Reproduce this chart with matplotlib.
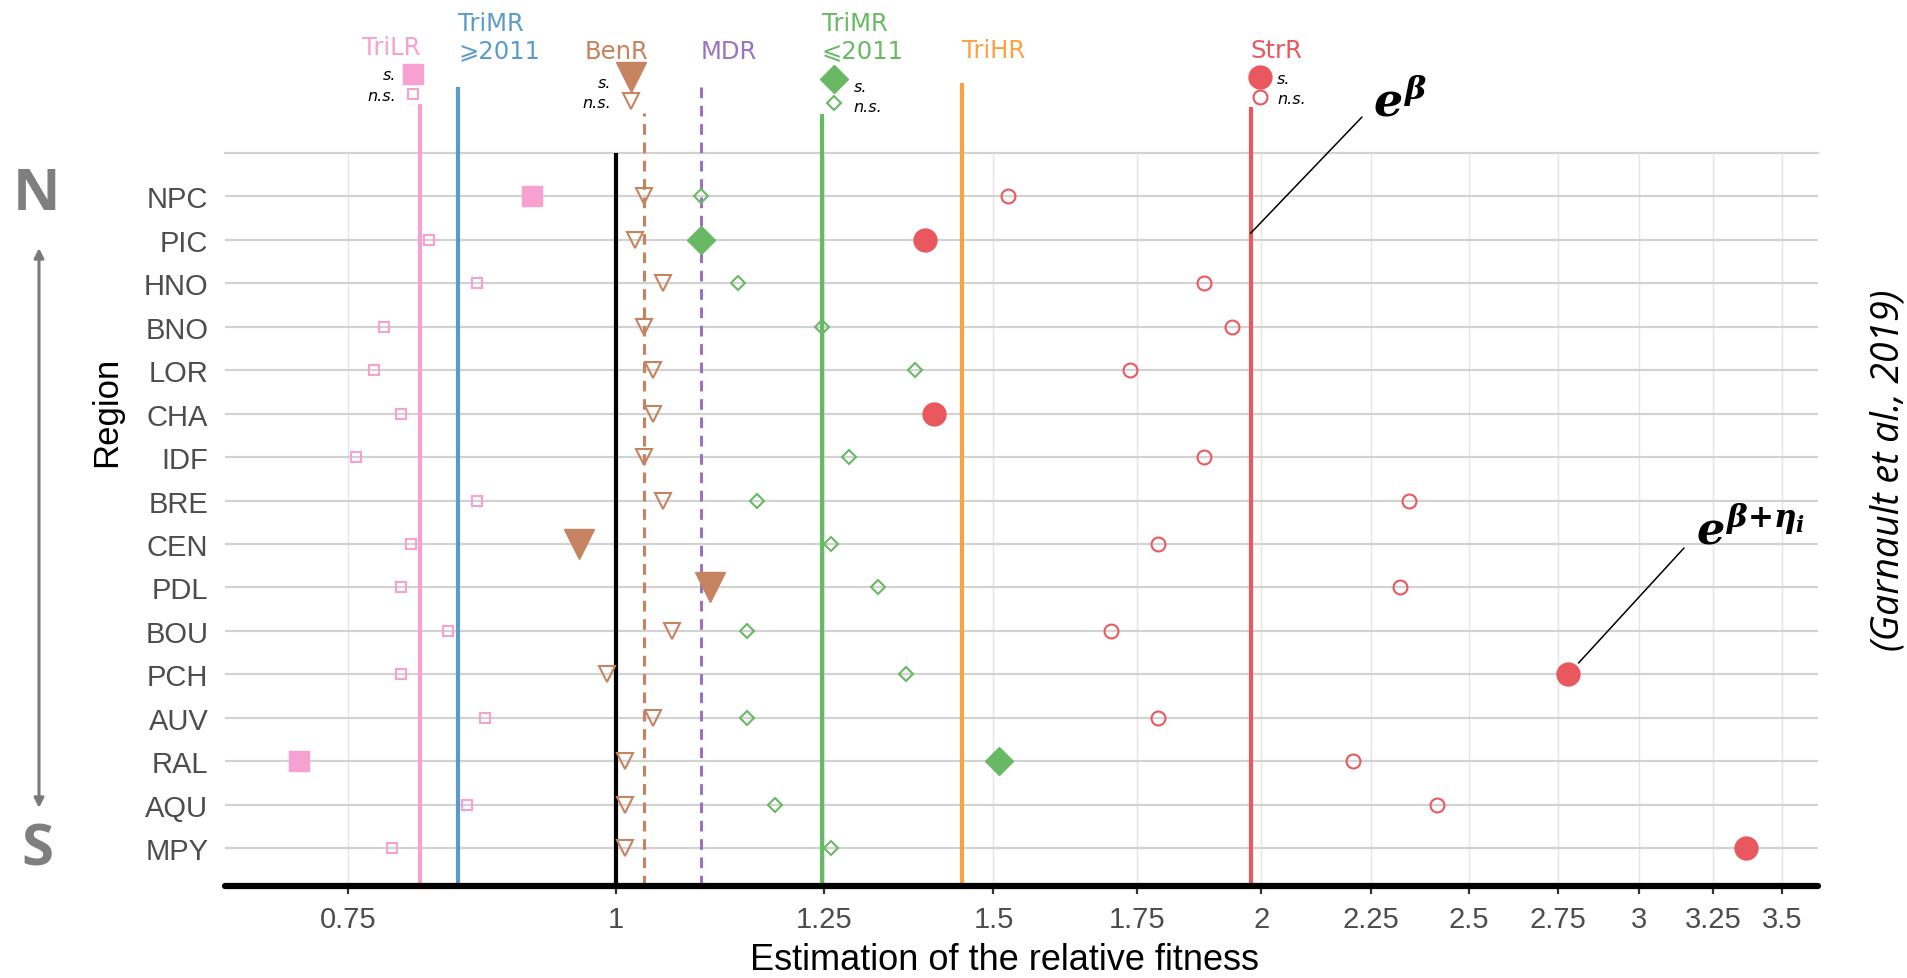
import numpy as np
import matplotlib
matplotlib.use("Agg")
import matplotlib.pyplot as plt

plt.rcParams["font.family"] = ["Liberation Sans", "DejaVu Sans"]
plt.rcParams["mathtext.fontset"] = "custom"
plt.rcParams["mathtext.it"] = "DejaVu Serif:italic:bold"
plt.rcParams["mathtext.rm"] = "DejaVu Serif:bold"
plt.rcParams["mathtext.bf"] = "DejaVu Serif:bold"

# regions, north to south
regions = ["NPC", "PIC", "HNO", "BNO", "LOR", "CHA", "IDF", "BRE",
           "CEN", "PDL", "BOU", "PCH", "AUV", "RAL", "AQU", "MPY"]

# regional estimates exp(beta + eta_i) and significance flags
trilr = [0.914, 0.818, 0.861, 0.779, 0.771, 0.794, 0.756, 0.861,
         0.802, 0.794, 0.835, 0.794, 0.869, 0.711, 0.852, 0.786]
trilr_sig = [1, 0, 0, 0, 0, 0, 0, 0, 0, 0, 0, 0, 0, 1, 0, 0]

benr = [1.031, 1.021, 1.052, 1.031, 1.041, 1.041, 1.031, 1.052,
        0.961, 1.106, 1.062, 0.990, 1.041, 1.010, 1.010, 1.010]
benr_sig = [0, 0, 0, 0, 0, 0, 0, 0, 1, 1, 0, 0, 0, 0, 0, 0]

trimr_old = [1.095, 1.095, 1.140, 1.247, 1.379, np.nan, 1.285, 1.163,
             1.260, 1.325, 1.151, 1.365, 1.151, 1.509, 1.186, 1.260]
trimr_old_sig = [0, 1, 0, 0, 0, 0, 0, 0, 0, 0, 0, 0, 0, 1, 0, 0]

strr = [1.524, 1.393, 1.881, 1.937, 1.736, 1.407, 1.881, 2.344,
        1.789, 2.321, 1.701, 2.781, 1.789, 2.208, 2.416, 3.365]
strr_sig = [0, 1, 0, 0, 0, 1, 0, 0, 0, 0, 0, 1, 0, 0, 0, 1]

# national estimates exp(beta)
phenotypes = ["TriLR", "TriMR ⩾2011", "BenR", "MDR", "TriMR ⩽2011", "TriHR", "StrR"]
beta = [0.810, 0.844, 1.031, 1.095, 1.247, 1.450, 1.977]

xticks = [0.75, 1, 1.25, 1.5, 1.75, 2, 2.25, 2.5, 2.75, 3, 3.25, 3.5]
xtick_labels = ["0.75", "1", "1.25", "1.5", "1.75", "2", "2.25", "2.5",
                "2.75", "3", "3.25", "3.5"]

colors = {"TriLR": "#F7A1D0", "TriMR ⩾2011": "#5B9BC9", "BenR": "#C5845F",
          "MDR": "#9B72BF", "TriMR ⩽2011": "#68B864", "TriHR": "#FCA13F",
          "StrR": "#E9585E"}

W, H = 1907, 979
fig = plt.figure(figsize=(W / 100, H / 100), dpi=100)
ax = fig.add_axes([225 / W, 1 - 887 / H, (1818 - 225) / W, (887 - 154) / H])

y = np.arange(len(regions))[::-1].astype(float)
ybot, ytop = -0.874, 16.0

ax.set_xscale("log")
ax.set_xlim(0.657, 3.637)
ax.set_ylim(ybot, ytop)
ax.xaxis.set_minor_locator(matplotlib.ticker.NullLocator())
ax.set_xticks(xticks, labels=xtick_labels)
ax.set_yticks(y, labels=regions)

ax.grid(axis="x", color="#e4e4e4", lw=1.0, zorder=0)
ax.grid(axis="y", color="#d2d2d2", lw=1.6, zorder=0)
ax.axhline(ytop, color="#d2d2d2", lw=1.6, clip_on=False, zorder=0)
ax.set_axisbelow(True)

for s in ["top", "left", "right"]:
    ax.spines[s].set_visible(False)
ax.spines["bottom"].set_linewidth(4.5)
ax.spines["bottom"].set_capstyle("round")
ax.tick_params(axis="x", length=6, width=1.6, color="#333333",
               labelsize=21, labelcolor="#4d4d4d", pad=8)
ax.tick_params(axis="y", length=0, labelsize=21, labelcolor="#4d4d4d", pad=12)

# vertical reference lines for exp(beta), running up into the header
line_tops = [17.12, 17.53, 16.93, 17.51, 16.89, 17.62, 17.07]
dashed = {"BenR", "MDR"}
ax.vlines(1, ybot, ytop, color="black", lw=3, zorder=2)
for name, b, top in zip(phenotypes, beta, line_tops):
    if name in dashed:
        ax.vlines(b, ybot, top, color=colors[name], lw=2.2, ls=(0, (3.5, 2.5)),
                  clip_on=False, zorder=2)
    else:
        ax.vlines(b, ybot, top, color=colors[name], lw=3, clip_on=False, zorder=2)


def points(vals, sig, marker, color, ms_s, ms_ns):
    vals = np.asarray(vals, dtype=float)
    sig = np.asarray(sig, dtype=bool)
    ax.plot(vals[sig], y[sig], ls="none", marker=marker, ms=ms_s,
            color=color, mec=color, zorder=4)
    ax.plot(vals[~sig], y[~sig], ls="none", marker=marker, ms=ms_ns,
            mfc="none", mec=color, mew=1.5, zorder=4)


points(trilr, trilr_sig, "s", colors["TriLR"], 14.5, 7.5)
points(benr, benr_sig, "v", colors["BenR"], 21, 12)
points(trimr_old, trimr_old_sig, "D", colors["TriMR ⩽2011"], 14.5, 7.5)
points(strr, strr_sig, "o", colors["StrR"], 16.5, 10)

# header: phenotype names above their lines
hdr = dict(fontsize=17.5, family="DejaVu Sans", va="center", clip_on=False)
ax.text(beta[0], 18.43, "TriLR", color=colors["TriLR"], ha="right", **hdr)
ax.text(beta[1], 19.0, "TriMR", color=colors["TriMR ⩾2011"], ha="left", **hdr)
ax.text(beta[1], 18.38, "⩾2011", color=colors["TriMR ⩾2011"], ha="left", **hdr)
ax.text(1.0, 18.34, "BenR", color=colors["BenR"], ha="center", **hdr)
ax.text(beta[3], 18.34, "MDR", color=colors["MDR"], ha="left", **hdr)
ax.text(beta[4], 19.0, "TriMR", color=colors["TriMR ⩽2011"], ha="left", **hdr)
ax.text(beta[4], 18.38, "⩽2011", color=colors["TriMR ⩽2011"], ha="left", **hdr)
ax.text(beta[5], 18.38, "TriHR", color=colors["TriHR"], ha="left", **hdr)
ax.text(beta[6], 18.38, "StrR", color=colors["StrR"], ha="left", **hdr)

# header keys: filled = significant, open = not significant
keys = [
    # marker, color, ms_s, ms_ns, marker x, y_s, y_ns, label x, label y_s, label y_ns, ha
    ("s", colors["TriLR"], 14.5, 7.5, 0.804, 17.83, 17.35, 0.790, 17.81, 17.32, "right"),
    ("v", colors["BenR"], 21, 12, 1.016, 17.76, 17.19, 0.9946, 17.62, 17.16, "right"),
    ("D", colors["TriMR ⩽2011"], 14.5, 7.5, 1.264, 17.71, 17.14, 1.291, 17.53, 17.07, "left"),
    ("o", colors["StrR"], 16.5, 10, 1.997, 17.76, 17.28, 2.034, 17.71, 17.25, "left"),
]
for m, c, ms_s, ms_ns, kx, ys, yns, lx, lys, lyns, ha in keys:
    ax.plot([kx], [ys], marker=m, ms=ms_s, color=c, clip_on=False, zorder=4)
    ax.plot([kx], [yns], marker=m, ms=ms_ns, mfc="none", mec=c, mew=1.5,
            clip_on=False, zorder=4)
    ax.text(lx, lys, "s.", fontsize=11.5, style="italic", family="DejaVu Sans",
            ha=ha, va="center", clip_on=False)
    ax.text(lx, lyns, "n.s.", fontsize=11.5, style="italic", family="DejaVu Sans",
            ha=ha, va="center", clip_on=False)

# formula callouts
ax.annotate("", xy=(beta[6], 14.15), xytext=(1362, H - 118),
            textcoords="figure pixels",
            arrowprops=dict(arrowstyle="-", lw=1.1, color="black",
                            shrinkA=0, shrinkB=0))
fig.text(1373 / W, 1 - 116 / H, r"$e^{\beta}$", fontsize=33, ha="left",
         va="baseline")
ax.annotate("", xy=(strr[11], y[11]), xytext=(1684, H - 549),
            textcoords="figure pixels",
            arrowprops=dict(arrowstyle="-", lw=1.1, color="black",
                            shrinkA=0, shrinkB=11))
fig.text(1696 / W, 1 - 544 / H, r"$e^{\beta{+}\eta_i}$", fontsize=32, ha="left",
         va="baseline")

# axis titles
fig.text(1004 / W, 1 - 961 / H, "Estimation of the relative fitness",
         fontsize=26, ha="center", va="center")
fig.text(107 / W, 1 - 412 / H, "Region", fontsize=25, rotation=90,
         ha="center", va="center")

# north/south cue
fig.text(37 / W, 1 - 195 / H, "N", fontsize=42, fontweight="bold",
         family="Open Sans", color="#7f7f7f", ha="center", va="center")
fig.text(37 / W, 1 - 851 / H, "S", fontsize=42, fontweight="bold",
         family="Open Sans", color="#7f7f7f", ha="center", va="center")
ax.annotate("", xy=(39, H - 249), xytext=(39, H - 809), xycoords="figure pixels",
            textcoords="figure pixels",
            arrowprops=dict(arrowstyle="<|-|>", lw=2.2, color="#7a7a7a",
                            mutation_scale=14, shrinkA=0, shrinkB=0))

fig.text(1889 / W, 1 - 470 / H, "(Garnault et al., 2019)", fontsize=27,
         style="italic", family="Open Sans", rotation=90,
         ha="center", va="center")

fig.savefig("out.png", dpi=100)
